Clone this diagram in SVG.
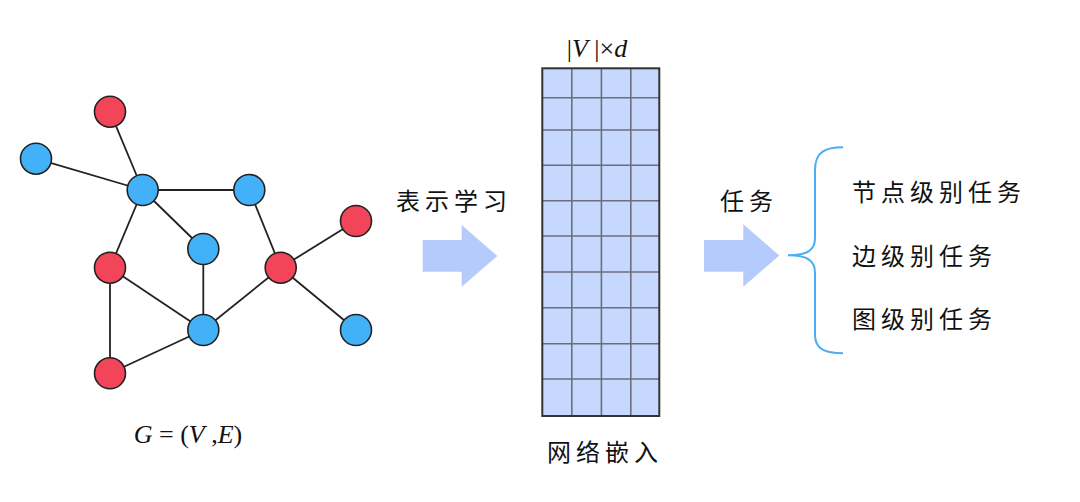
<svg xmlns="http://www.w3.org/2000/svg" width="1080" height="502" viewBox="0 0 1080 502">
<style>
.edge{stroke:#222;stroke-width:1.8;fill:none}
.r{fill:#f2455a;stroke:#222;stroke-width:1.6}
.b{fill:#43b1f7;stroke:#222;stroke-width:1.6}
.cn{font-family:"Liberation Serif","Noto Sans CJK SC",serif;font-size:24px;fill:#111;letter-spacing:5px}
.math{font-family:"Liberation Serif",serif;font-size:26px;fill:#111}
.it{font-style:italic}
.arrow{fill:#b5cbfb}
.grid{stroke:#6b6f78;stroke-width:1.6}
</style>
<rect width="1080" height="502" fill="#fff"/>
<g id="edges">
<line class="edge" x1="110" y1="111.7" x2="142.7" y2="190"/>
<line class="edge" x1="36" y1="158.7" x2="142.7" y2="190"/>
<line class="edge" x1="142.7" y1="190" x2="249.3" y2="190"/>
<line class="edge" x1="142.7" y1="190" x2="203.3" y2="249"/>
<line class="edge" x1="142.7" y1="190" x2="110" y2="267.7"/>
<line class="edge" x1="249.3" y1="190" x2="280.7" y2="267.7"/>
<line class="edge" x1="280.7" y1="267.7" x2="356" y2="221"/>
<line class="edge" x1="280.7" y1="267.7" x2="356" y2="330"/>
<line class="edge" x1="280.7" y1="267.7" x2="203.3" y2="330"/>
<line class="edge" x1="203.3" y1="249" x2="203.3" y2="330"/>
<line class="edge" x1="110" y1="267.7" x2="203.3" y2="330"/>
<line class="edge" x1="110" y1="267.7" x2="110" y2="373.3"/>
<line class="edge" x1="110" y1="373.3" x2="203.3" y2="330"/>
</g>
<g id="n-r1"><circle class="r" cx="110" cy="111.7" r="15.5"/></g>
<g id="n-b1"><circle class="b" cx="36" cy="158.7" r="15.5"/></g>
<g id="n-b2"><circle class="b" cx="142.7" cy="190" r="15.5"/></g>
<g id="n-b3"><circle class="b" cx="249.3" cy="190" r="15.5"/></g>
<g id="n-r2"><circle class="r" cx="356" cy="221" r="15.5"/></g>
<g id="n-b4"><circle class="b" cx="203.3" cy="249" r="15.5"/></g>
<g id="n-r3"><circle class="r" cx="110" cy="267.7" r="15.5"/></g>
<g id="n-r4"><circle class="r" cx="280.7" cy="267.7" r="15.5"/></g>
<g id="n-b5"><circle class="b" cx="203.3" cy="330" r="15.5"/></g>
<g id="n-b6"><circle class="b" cx="356" cy="330" r="15.5"/></g>
<g id="n-r5"><circle class="r" cx="110" cy="373.3" r="15.5"/></g>
<g id="graph-label">
<text class="math" x="188" y="443" text-anchor="middle" xml:space="preserve"><tspan class="it">G</tspan> = (<tspan class="it">V</tspan> ,<tspan class="it">E</tspan>)</text>
</g>
<g id="arrow1">
<text class="cn" x="396" y="210">表示学习</text>
<polygon class="arrow" points="422.7,240 461.7,240 461.7,225 497.3,256 461.7,286.7 461.7,271.7 422.7,271.7"/>
</g>
<g id="matrix">
<rect x="542.3" y="68.3" width="117" height="347.7" fill="#c6d8fe"/>
<g class="grid">
<line x1="571.8" y1="68.3" x2="571.8" y2="416"/>
<line x1="601.4" y1="68.3" x2="601.4" y2="416"/>
<line x1="630.8" y1="68.3" x2="630.8" y2="416"/>
<line x1="542.3" y1="97.7" x2="659.3" y2="97.7"/>
<line x1="542.3" y1="130" x2="659.3" y2="130"/>
<line x1="542.3" y1="165.3" x2="659.3" y2="165.3"/>
<line x1="542.3" y1="200.7" x2="659.3" y2="200.7"/>
<line x1="542.3" y1="236" x2="659.3" y2="236"/>
<line x1="542.3" y1="272" x2="659.3" y2="272"/>
<line x1="542.3" y1="307.7" x2="659.3" y2="307.7"/>
<line x1="542.3" y1="343.7" x2="659.3" y2="343.7"/>
<line x1="542.3" y1="379" x2="659.3" y2="379"/>
</g>
<rect x="542.3" y="68.3" width="117" height="347.7" fill="none" stroke="#333" stroke-width="2"/>
<text class="math" x="597" y="57" text-anchor="middle" xml:space="preserve">|<tspan class="it">V</tspan> |×<tspan class="it">d</tspan></text>
<text class="cn" x="547" y="461">网络嵌入</text>
</g>
<g id="arrow2">
<text class="cn" x="720" y="210">任务</text>
<polygon class="arrow" points="704,240 743.3,240 743.3,224.3 779.3,255.5 743.3,286.7 743.3,271.7 704,271.7"/>
</g>
<g id="brace">
<path d="M843,147.3 C825,147.3 815,152 815,170 L815,238 C815,250 808,255.3 788,255.3 C808,255.3 815,261 815,273 L815,335 C815,349 825,353.3 843,353.3" fill="none" stroke="#4aaef5" stroke-width="2"/>
</g>
<g id="tasks">
<text class="cn" x="852" y="201">节点级别任务</text>
<text class="cn" x="852" y="265">边级别任务</text>
<text class="cn" x="852" y="328">图级别任务</text>
</g>
</svg>
